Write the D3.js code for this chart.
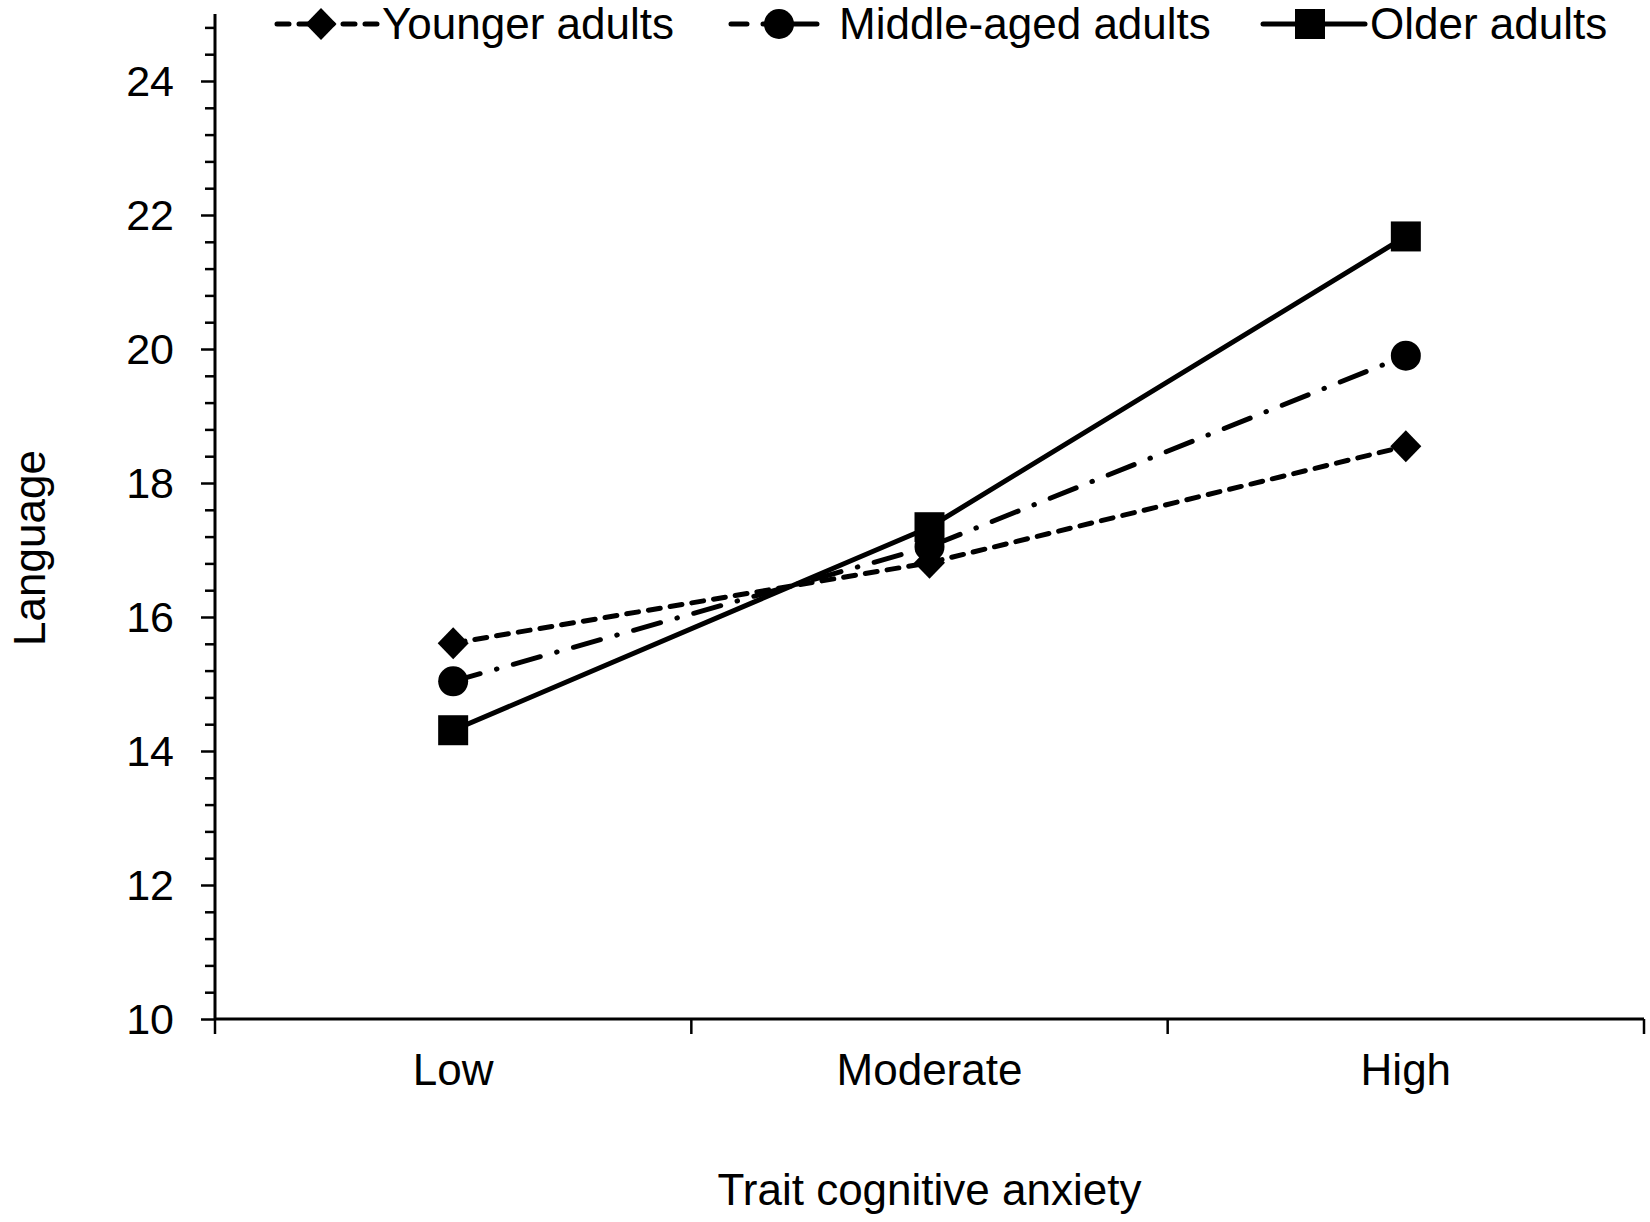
<!DOCTYPE html>
<html>
<head>
<meta charset="utf-8">
<script src="https://cdn.jsdelivr.net/npm/d3@7"></script>
<style>
    body { margin: 0; background: #fff; }
    text { font-family: "Liberation Sans", Arial, sans-serif; fill: #000; }
</style>
</head>
<body>
<div id="chart"></div>
<script>
// categories and series
const levels = ["Low", "Moderate", "High"]
const groups = ["Younger adults", "Middle-aged adults", "Older adults"]
const younger = [15.61, 16.81, 18.55]
const middleAged = [15.04, 17.05, 19.9]
const older = [14.31, 17.34, 21.68]
const yLabels = [10, 12, 14, 16, 18, 20, 22, 24]

const width = 1650, height = 1222;
const margin = { top: 14, right: 6, bottom: 203, left: 215 };

const svg = d3.select("#chart")
    .append("svg")
    .attr("width", width)
    .attr("height", height);

const x = d3.scaleBand()
    .domain(levels)
    .range([margin.left, width - margin.right]);

const y = d3.scaleLinear()
    .domain([10, 25])
    .range([height - margin.bottom, margin.top]);

// y axis: minor ticks every 0.4, labels on even numbers
const yTicks = d3.range(0, 38).map(i => +(10 + i * 0.4).toFixed(1));
const yAxis = svg.append("g")
    .attr("transform", `translate(${margin.left},0)`)
    .call(d3.axisLeft(y)
        .tickValues(yTicks)
        .tickSize(0)
        .tickFormat(""));
yAxis.select(".domain").attr("stroke-width", 3).attr("d", `M0,${y(25)}V${y(10)}`);
yAxis.selectAll(".tick line")
    .attr("stroke-width", 2.5)
    .attr("x2", d => yLabels.includes(d) ? -14 : -10);

svg.append("g")
    .selectAll("text")
    .data(yLabels)
    .join("text")
    .attr("x", 174)
    .attr("y", d => y(d))
    .attr("dy", "0.36em")
    .attr("text-anchor", "end")
    .style("font-size", "43px")
    .text(d => d);

// x axis with ticks on category boundaries
const xAxis = svg.append("g")
    .attr("transform", `translate(0,${y(10)})`);
xAxis.append("line")
    .attr("x1", margin.left)
    .attr("x2", width - margin.right)
    .attr("stroke", "#000")
    .attr("stroke-width", 3);
xAxis.selectAll(".bound")
    .data([...levels.map(d => x(d)), x.range()[1]])
    .join("line")
    .attr("class", "bound")
    .attr("x1", d => d).attr("x2", d => d)
    .attr("y1", 0).attr("y2", 15)
    .attr("stroke", "#000")
    .attr("stroke-width", 2.5);
xAxis.selectAll(".lbl")
    .data(levels)
    .join("text")
    .attr("class", "lbl")
    .attr("x", d => x(d) + x.bandwidth() / 2)
    .attr("y", 66)
    .attr("text-anchor", "middle")
    .style("font-size", "44px")
    .text(d => d);

svg.append("text")
    .attr("x", x(levels[1]) + x.bandwidth() / 2)
    .attr("y", 1205)
    .attr("text-anchor", "middle")
    .style("font-size", "44px")
    .text("Trait cognitive anxiety");

svg.append("text")
    .attr("transform", "translate(45,548) rotate(-90)")
    .attr("text-anchor", "middle")
    .style("font-size", "44px")
    .text("Language");

const series = [
    { name: groups[0], values: younger, dash: "12,10", legendDash: "12,10", shape: "diamond" },
    { name: groups[1], values: middleAged, dash: "28,17,0.5,17", legendDash: "16,16,100", shape: "circle" },
    { name: groups[2], values: older, dash: null, legendDash: null, shape: "square" }
];

function drawMarker(g, shape, cx, cy) {
    if (shape === "diamond") {
        g.append("path")
            .attr("d", `M${cx},${cy - 16}L${cx + 15.5},${cy}L${cx},${cy + 16}L${cx - 15.5},${cy}Z`);
    } else if (shape === "circle") {
        g.append("circle").attr("cx", cx).attr("cy", cy).attr("r", 15);
    } else {
        g.append("rect").attr("x", cx - 15).attr("y", cy - 15).attr("width", 30).attr("height", 30);
    }
}

const line = d3.line()
    .x((d, i) => x(levels[i]) + x.bandwidth() / 2)
    .y(d => y(d));

series.forEach(s => {
    const g = svg.append("g");
    g.append("path")
        .attr("d", line(s.values))
        .attr("fill", "none")
        .attr("stroke", "#000")
        .attr("stroke-width", 5)
        .attr("stroke-linecap", s.dash ? "round" : "butt")
        .attr("stroke-dasharray", s.dash);
    s.values.forEach((v, i) => drawMarker(g, s.shape, x(levels[i]) + x.bandwidth() / 2, y(v)));
});

// legend
const legendPos = [
    { x1: 277, x2: 377, mx: 321, tx: 382 },
    { x1: 731, x2: 817, mx: 779, tx: 839 },
    { x1: 1263, x2: 1365, mx: 1310, tx: 1370 }
];
series.forEach((s, i) => {
    const p = legendPos[i];
    const g = svg.append("g");
    g.append("line")
        .attr("x1", p.x1).attr("x2", p.x2)
        .attr("y1", 24).attr("y2", 24)
        .attr("stroke", "#000")
        .attr("stroke-width", 5)
        .attr("stroke-linecap", "round")
        .attr("stroke-dasharray", s.legendDash);
    drawMarker(g, s.shape, p.mx, 24);
    g.append("text")
        .attr("x", p.tx)
        .attr("y", 39)
        .style("font-size", "44px")
        .text(s.name);
});
</script>
</body>
</html>
